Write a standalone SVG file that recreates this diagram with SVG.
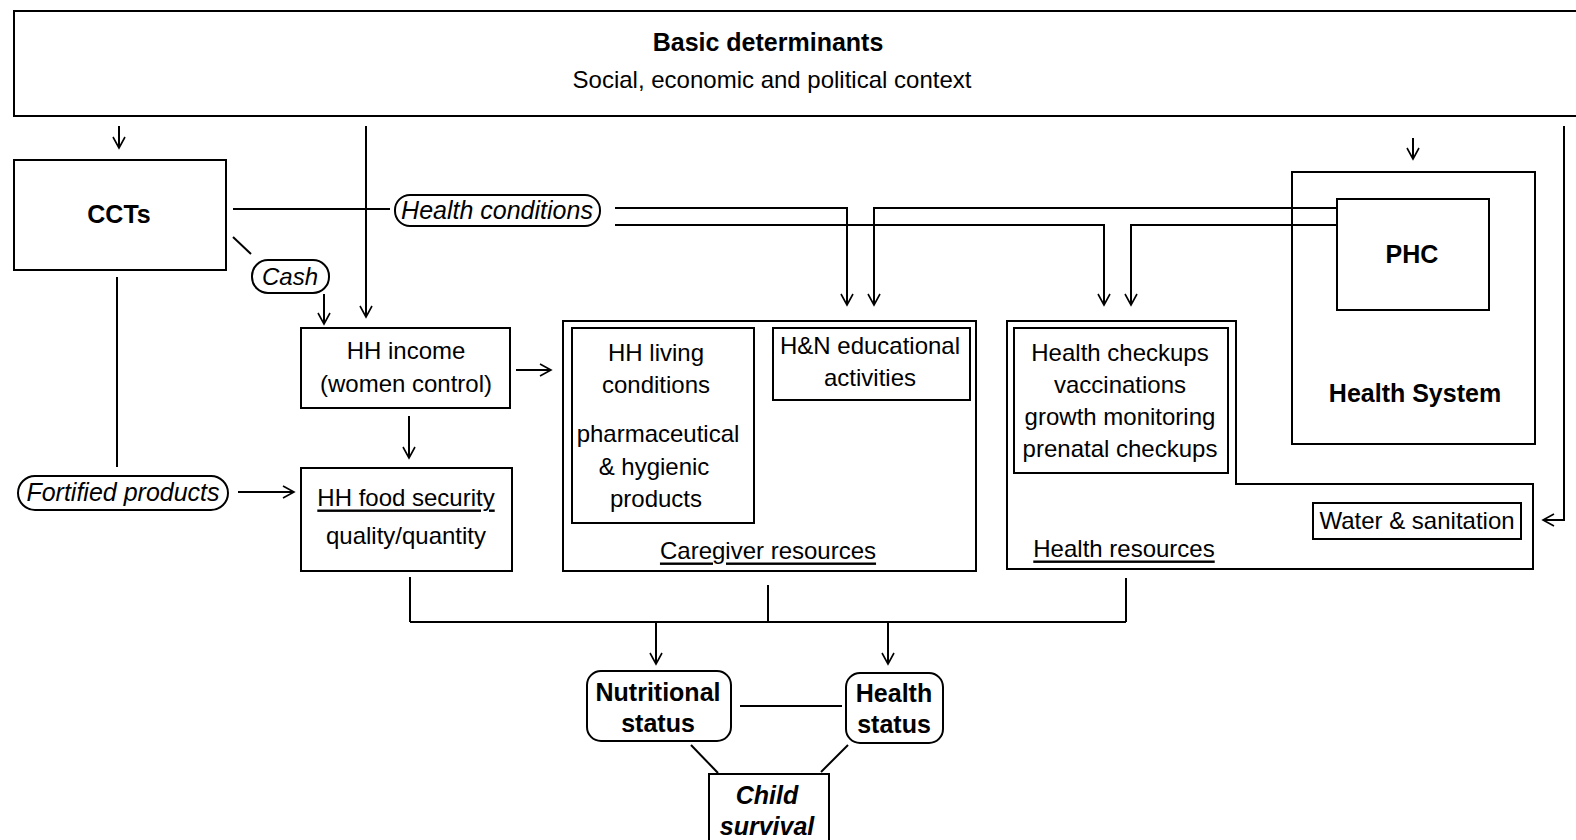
<svg xmlns="http://www.w3.org/2000/svg" width="1576" height="840" viewBox="0 0 1576 840">
<style>
.box{fill:#fff;stroke:#000;stroke-width:2}
.ln{fill:none;stroke:#000;stroke-width:2}
.t{font-family:"Liberation Sans",Arial,sans-serif;font-size:24px;fill:#000;text-anchor:middle;dominant-baseline:central}
.b{font-weight:bold;font-size:25px}
.i{font-style:italic}
.p{font-size:25px}
.u{text-decoration:underline}
</style>
<defs>
<marker id="arr" markerWidth="14" markerHeight="14" refX="12" refY="7" orient="auto" markerUnits="userSpaceOnUse">
<path d="M1,1 L12,7 L1,13" fill="none" stroke="#000" stroke-width="1.6"/>
</marker>
</defs>
<rect width="1576" height="840" fill="#fff"/>

<g id="basic">
<rect class="box" x="14" y="11" width="1575" height="105"/>
<text class="t b" x="768" y="42">Basic determinants</text>
<text class="t" x="772" y="79">Social, economic and political context</text>
</g>

<g id="ccts">
<rect class="box" x="14" y="160" width="212" height="110"/>
<text class="t b" x="119" y="214">CCTs</text>
</g>

<g id="health-conditions">
<rect class="box" x="395" y="195" width="205" height="31" rx="15"/>
<text class="t i p" x="497" y="210">Health conditions</text>
</g>

<g id="cash">
<rect class="box" x="252" y="260" width="77" height="33" rx="16"/>
<text class="t i" x="290" y="276">Cash</text>
</g>

<g id="fortified">
<rect class="box" x="18" y="476" width="210" height="34" rx="17"/>
<text class="t i p" x="123" y="492">Fortified products</text>
</g>

<g id="hh-income">
<rect class="box" x="301" y="328" width="209" height="80"/>
<text class="t" x="406" y="350">HH income</text>
<text class="t" x="406" y="383">(women control)</text>
</g>

<g id="hh-food">
<rect class="box" x="301" y="468" width="211" height="103"/>
<text class="t u" x="406" y="497">HH food security</text>
<text class="t" x="406" y="535">quality/quantity</text>
</g>

<g id="caregiver">
<rect class="box" x="563" y="321" width="413" height="250"/>
<rect class="box" x="572" y="328" width="182" height="195"/>
<text class="t" x="656" y="352">HH living</text>
<text class="t" x="656" y="384">conditions</text>
<text class="t" x="658" y="433">pharmaceutical</text>
<text class="t" x="654" y="466">&amp; hygienic</text>
<text class="t" x="656" y="498">products</text>
<rect class="box" x="773" y="328" width="197" height="72"/>
<text class="t" x="870" y="345">H&amp;N educational</text>
<text class="t" x="870" y="377">activities</text>
<text class="t u" x="768" y="550">Caregiver resources</text>
</g>

<g id="health-resources">
<path class="box" d="M1007,321 H1236 V484 H1533 V569 H1007 Z"/>
<rect class="box" x="1014" y="328" width="214" height="145"/>
<text class="t" x="1120" y="352">Health checkups</text>
<text class="t" x="1120" y="384">vaccinations</text>
<text class="t" x="1120" y="416">growth monitoring</text>
<text class="t" x="1120" y="448">prenatal checkups</text>
<rect class="box" x="1313" y="503" width="208" height="36"/>
<text class="t" x="1417" y="520">Water &amp; sanitation</text>
<text class="t u" x="1124" y="548">Health resources</text>
</g>

<g id="health-system">
<rect class="box" x="1292" y="172" width="243" height="272"/>
<rect class="box" x="1337" y="199" width="152" height="111"/>
<text class="t b" x="1412" y="254">PHC</text>
<text class="t b" x="1415" y="393">Health System</text>
</g>

<g id="nutritional">
<rect class="box" x="587" y="671" width="144" height="70" rx="14"/>
<text class="t b" x="658" y="692">Nutritional</text>
<text class="t b" x="658" y="723">status</text>
</g>

<g id="health-status">
<rect class="box" x="846" y="673" width="97" height="70" rx="14"/>
<text class="t b" x="894" y="693">Health</text>
<text class="t b" x="894" y="724">status</text>
</g>

<g id="child-survival">
<rect class="box" x="709" y="774" width="120" height="80"/>
<text class="t b i" x="767" y="795">Child</text>
<text class="t b i" x="767" y="826">survival</text>
</g>

<g id="connectors" class="ln">
<line x1="119" y1="126" x2="119" y2="148" marker-end="url(#arr)"/>
<line x1="366" y1="126" x2="366" y2="317" marker-end="url(#arr)"/>
<line x1="233" y1="209" x2="390" y2="209"/>
<line x1="233" y1="237" x2="251" y2="254"/>
<line x1="324" y1="294" x2="324" y2="324" marker-end="url(#arr)"/>
<line x1="117" y1="277" x2="117" y2="467"/>
<line x1="238" y1="492" x2="294" y2="492" marker-end="url(#arr)"/>
<line x1="516" y1="370" x2="551" y2="370" marker-end="url(#arr)"/>
<line x1="409" y1="416" x2="409" y2="458" marker-end="url(#arr)"/>
<path d="M615,208 H847 V305" marker-end="url(#arr)"/>
<path d="M1336,208 H874 V305" marker-end="url(#arr)"/>
<path d="M615,225 H1104 V305" marker-end="url(#arr)"/>
<path d="M1336,225 H1131 V305" marker-end="url(#arr)"/>
<line x1="1413" y1="138" x2="1413" y2="159" marker-end="url(#arr)"/>
<path d="M1564,126 V520 H1543" marker-end="url(#arr)"/>
<line x1="410" y1="577" x2="410" y2="622"/>
<line x1="768" y1="585" x2="768" y2="622"/>
<line x1="1126" y1="578" x2="1126" y2="622"/>
<line x1="410" y1="622" x2="1126" y2="622"/>
<line x1="656" y1="622" x2="656" y2="664" marker-end="url(#arr)"/>
<line x1="888" y1="622" x2="888" y2="664" marker-end="url(#arr)"/>
<line x1="740" y1="706" x2="842" y2="706"/>
<line x1="691" y1="745" x2="718" y2="773"/>
<line x1="848" y1="745" x2="821" y2="772"/>
</g>
</svg>
